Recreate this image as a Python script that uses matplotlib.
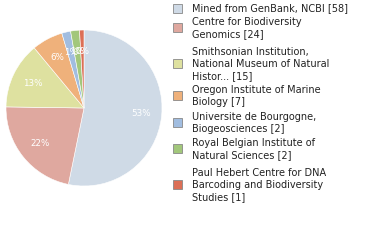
import matplotlib
matplotlib.use('Agg')
import matplotlib.pyplot as plt
from matplotlib.patches import Rectangle

# ─── DATA ─────────────────────────────────────────────────────────────
labels = [
    "Mined from GenBank, NCBI [58]",
    "Centre for Biodiversity\nGenomics [24]",
    "Smithsonian Institution,\nNational Museum of Natural\nHistor... [15]",
    "Oregon Institute of Marine\nBiology [7]",
    "Universite de Bourgogne,\nBiogeosciences [2]",
    "Royal Belgian Institute of\nNatural Sciences [2]",
    "Paul Hebert Centre for DNA\nBarcoding and Biodiversity\nStudies [1]",
]
counts = [58, 24, 15, 7, 2, 2, 1]
colors = ['#cfdae6', '#dfa89f', '#dee1a0', '#efb17b', '#a1bde0', '#a2c77b', '#dc6f56']

W, H = 380, 240
fig = plt.figure(figsize=(W / 100, H / 100), dpi=100)

# pie: centre (84,108) px, radius 78 px
cx, cy, r = 84, 108, 78
ax = fig.add_axes([(cx - r) / W, 1 - (cy + r) / H, 2 * r / W, 2 * r / H])
ax.pie(counts, colors=colors, startangle=90, counterclock=False,
       autopct='%d%%', pctdistance=0.73,
       wedgeprops=dict(edgecolor='white', linewidth=0.4),
       textprops=dict(color='white', fontsize=6.3))
ax.set_xlim(-1.0, 1.0)
ax.set_ylim(-1.0, 1.0)
ax.set_aspect('equal')
ax.axis('off')

# legend drawn by hand (first-line y of each entry, px from top)
line_h = 11.7
first_line = [8, 22, 52, 90, 117, 143, 173]
for lab, col, y0 in zip(labels, colors, first_line):
    n = lab.count('\n') + 1
    ymid = y0 + (n - 1) * line_h / 2
    fig.patches.append(Rectangle((173 / W, 1 - (ymid + 4.5) / H), 9 / W, 9 / H,
                                 transform=fig.transFigure, facecolor=col,
                                 edgecolor='#888888', linewidth=0.6))
    fig.text(192 / W, 1 - ymid / H, lab, fontsize=7, color='#222222',
             va='center', ha='left', linespacing=1.25)

fig.savefig('out.png', dpi=100)
